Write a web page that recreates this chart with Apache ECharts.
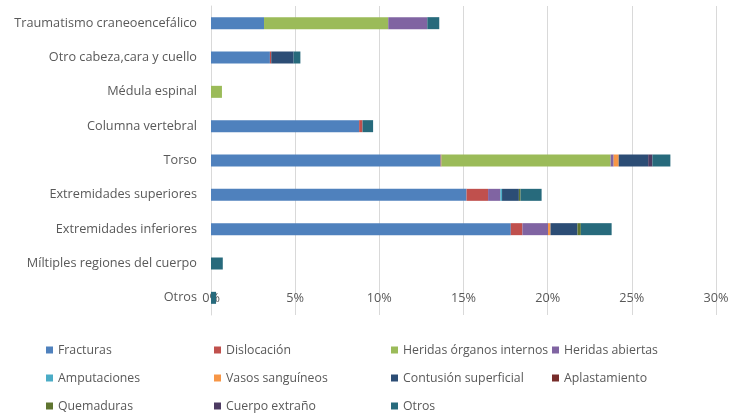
<!DOCTYPE html>
<html><head><meta charset="utf-8">
<script src="https://cdn.jsdelivr.net/npm/echarts@6/dist/echarts.min.js"></script>
<style>html,body{margin:0;padding:0;background:#fff}#c{width:735px;height:415px}</style>
</head><body><div id="c"></div>
<script>
const categories = ["Traumatismo craneoencefálico","Otro cabeza,cara y cuello","Médula espinal","Columna vertebral","Torso","Extremidades superiores","Extremidades inferiores","Míltiples regiones del cuerpo","Otros"];
const xTicks = [0,5,10,15,20,25,30];
const fracturas      = [3.15, 3.5, 0, 8.8, 13.64, 15.18, 17.81, 0, 0];
const dislocacion    = [0, 0.08, 0, 0.2, 0.05, 1.28, 0.69, 0, 0];
const heridasOrganos = [7.38, 0, 0.65, 0, 10.05, 0, 0, 0, 0];
const heridasAbiertas= [2.32, 0, 0, 0, 0.18, 0.73, 1.52, 0, 0];
const amputaciones   = [0, 0, 0, 0, 0, 0.1, 0, 0, 0];
const vasos          = [0, 0, 0, 0, 0.3, 0, 0.15, 0, 0];
const contusion      = [0, 1.33, 0, 0, 1.75, 1.0, 1.6, 0, 0];
const aplastamiento  = [0, 0, 0, 0, 0, 0, 0, 0, 0];
const quemaduras     = [0, 0, 0, 0, 0, 0.1, 0.2, 0, 0];
const cuerpoExtrano  = [0, 0, 0, 0, 0.25, 0, 0, 0, 0];
const otros          = [0.71, 0.4, 0, 0.63, 1.07, 1.25, 1.83, 0.7, 0.3];

const seriesDefs = [
  ["Fracturas", fracturas, "#4F81BD"],
  ["Dislocación", dislocacion, "#C0504D"],
  ["Heridas órganos internos", heridasOrganos, "#9BBB59"],
  ["Heridas abiertas", heridasAbiertas, "#8064A2"],
  ["Amputaciones", amputaciones, "#4BACC6"],
  ["Vasos sanguíneos", vasos, "#F79646"],
  ["Contusión superficial", contusion, "#2C4D75"],
  ["Aplastamiento", aplastamiento, "#772C2A"],
  ["Quemaduras", quemaduras, "#5F7530"],
  ["Cuerpo extraño", cuerpoExtrano, "#4D3B62"],
  ["Otros", otros, "#276A7C"]
];
const font = "'Open Sans', sans-serif";
const txt = {color:'#595959', fontFamily:font, fontSize:12.3, lineHeight:16};
const legendCols = [
  [46, ["Fracturas","Amputaciones","Quemaduras"]],
  [214, ["Dislocación","Vasos sanguíneos","Cuerpo extraño"]],
  [391, ["Heridas órganos internos","Contusión superficial","Otros"]],
  [552, ["Heridas abiertas","Aplastamiento"]]
];
const chart = echarts.init(document.getElementById('c'));
chart.setOption({
  animation:false,
  grid:{left:211, right:19, top:6, bottom:100, containLabel:false},
  xAxis:{type:'value', min:0, max:30, interval:5, offset:-23,
    axisLabel:{formatter:v=>v+'%', color:'#595959', fontFamily:font, fontSize:12.7, margin:0},
    axisLine:{show:false}, axisTick:{show:false},
    splitLine:{lineStyle:{color:'#D9D9D9', width:1}}},
  yAxis:{type:'category', data:categories, inverse:true,
    axisLabel:{color:'#595959', fontFamily:font, fontSize:12.7, margin:14},
    axisLine:{show:true, lineStyle:{color:'#D9D9D9'}}, axisTick:{show:false}},
  legend: legendCols.map(([x, names]) => ({
    orient:'vertical', left:x, top:342, height:100, padding:0, itemWidth:7, itemHeight:7, itemGap:12,
    icon:'rect', data:names, textStyle:txt, selectedMode:false
  })),
  series: seriesDefs.map(([name, data, color]) => ({
    name, type:'bar', stack:'total', data, barWidth:12,
    itemStyle:{color}
  }))
});
</script></body></html>
